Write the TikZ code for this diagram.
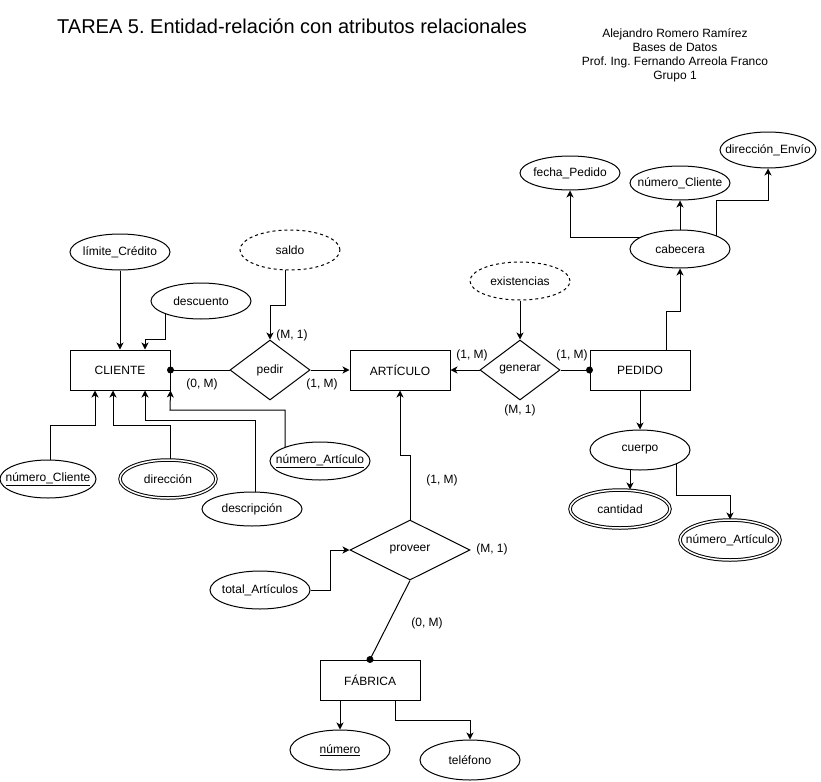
\documentclass[tikz,border=0pt]{standalone}
\usepackage{fontspec}
\setmainfont{Liberation Sans}
\usetikzlibrary{shapes.geometric,arrows.meta,calc}
\pgfdeclarelayer{bg}
\pgfsetlayers{bg,main}
\frenchspacing
\newcommand\ctext[1]{\makebox[0pt]{#1}}
\tikzset{
  txt/.style={font=\fontsize{12}{14}\selectfont},
  ent/.style={txt, draw, line width=1pt, fill=white, minimum width=100pt, minimum height=40pt, inner sep=0pt},
  rel/.style={txt, draw, diamond, line width=1pt, fill=white, minimum width=80pt, minimum height=60pt, inner sep=0pt},
  attr/.style={txt, draw, ellipse, line width=1pt, fill=white, minimum width=100pt, minimum height=38pt, inner sep=0pt},
  dattr/.style={attr, dash pattern=on 3pt off 3pt},
  mattr/.style={attr, double, double distance=1.5pt},
  conn/.style={line width=1pt},
  arr/.style={conn, -{Stealth[length=7pt,width=7pt,inset=2pt]}},
  card/.style={txt, inner sep=0pt},
}
\begin{document}
\frenchspacing
\begin{tikzpicture}[x=1pt,y=-1pt]
\useasboundingbox (0,0) rectangle (821,781);

\node[anchor=base west, inner sep=0pt, font=\fontsize{20}{24}\selectfont] (title) at (57,34) {TAREA 5. Entidad-relación con atributos relacionales};
\node[align=center, inner sep=0pt, font=\fontsize{12}{14}\selectfont] (autor) at (675,55) {Alejandro Romero Ramírez\\Bases de Datos\\Prof. Ing. Fernando Arreola Franco\\Grupo 1};

% entities
\node[ent] (cliente) at (120,370) {CLIENTE};
\node[ent] (articulo) at (400,370) {ARTÍCULO};
\node[ent] (pedido) at (640,370) {PEDIDO};
\node[ent] (fabrica) at (370,680) {FÁBRICA};

% relationships
\node[rel] (pedir) at (270,370) {pedir};
\node[rel] (generar) at (520,370) {generar};
\node[rel, minimum width=120pt] (proveer) at (410,550) {proveer};

% attributes
\node[attr, minimum height=36pt] (limite) at (120,252) {\ctext{límite\_Crédito}};
\node[attr, minimum height=36pt] (descuento) at (201,301) {\ctext{descuento}};
\node[dattr, minimum height=40pt] (saldo) at (290,250) {\ctext{saldo}};
\node[attr, minimum width=96pt] (ncli) at (48,479) {\ctext{\underline{número\_Cliente}}};
\node[mattr, minimum width=96pt] (direccion) at (168,479) {\ctext{dirección}};
\node[attr, minimum height=34pt] (descripcion) at (252,509) {\ctext{descripción}};
\node[attr] (nart) at (320,461) {\ctext{\underline{número\_Artículo}}};
\node[dattr] (existencias) at (520,281) {\ctext{existencias}};
\node[attr, minimum height=34pt] (fecha) at (570,173) {\ctext{fecha\_Pedido}};
\node[attr, minimum height=34pt] (ncli2) at (680,183) {\ctext{número\_Cliente}};
\node[attr, minimum width=96pt, minimum height=36pt] (envio) at (768,150) {\ctext{dirección\_Envío}};
\node[attr] (cabecera) at (680,249) {\ctext{cabecera}};
\node[attr, minimum height=40pt] (cuerpo) at (640,450) {\ctext{cuerpo}};
\node[mattr] (cantidad) at (620,509) {\ctext{cantidad}};
\node[mattr, minimum height=40pt] (nart2) at (730,540) {\ctext{número\_Artículo}};
\node[attr] (total) at (260,590) {\ctext{total\_Artículos}};
\node[attr, minimum height=40pt] (numero) at (340,750) {\ctext{\underline{número}}};
\node[attr, minimum height=40pt] (telefono) at (470,760) {\ctext{teléfono}};

% connectors
\begin{pgfonlayer}{bg}
\draw[arr] (limite) -- (cliente);
\draw[arr] ($(descuento.center)+(-36,0)$) |- (145,339) -- ($(cliente.north)+(25,0)$);
\draw[arr] ($(saldo.center)+(-5,0)$) |- (270,305) -- (pedir.north);
\draw[conn] (cliente.east) -- (pedir.west);
\draw[arr] (pedir.east) -- (articulo.west);
\draw[arr] ($(ncli.center)+(2,0)$) |- (95,425) -- ($(cliente.south)+(-25,0)$);
\draw[arr] ($(direccion.center)+(2,0)$) |- (113,425) -- ($(cliente.south)+(-7,0)$);
\draw[arr] ($(descripcion.center)+(3,0)$) |- (145,420) -- ($(cliente.south)+(25,0)$);
\draw[arr] ($(nart.center)+(-35,0)$) |- (170,410) -- (cliente.south east);
\draw[arr] (existencias) -- (generar);
\draw[arr] (generar.west) -- (articulo.east);
\draw[conn] (generar.east) -- (pedido.west);
\draw[arr] ($(pedido.north)+(26,0)$) |- (680,311) -- (cabecera.south);
\draw[arr] ($(cabecera.center)+(-20,-12)$) -| (fecha.south);
\draw[arr] (cabecera) -- (ncli2);
\draw[arr] ($(cabecera.center)+(36,0)$) |- (768,200) -- (envio.south);
\draw[arr] (pedido) -- (cuerpo);
\draw[arr] ($(cuerpo.center)+(-10,0)$) -- ($(cantidad.north)+(10,0)$);
\draw[arr] ($(cuerpo.center)+(36,0)$) |- (730,495) -- (nart2.north);
\draw[arr] (proveer.north) |- (400,455) -- (articulo.south);
\draw[arr] (total.east) -| (330,550) -- (proveer.west);
\draw[conn] (proveer.south) -- (fabrica.north);
\draw[arr] ($(fabrica.south)+(-30,0)$) -- (numero.north);
\draw[arr] ($(fabrica.south)+(25,0)$) |- (470,720) -- (telefono.north);
\end{pgfonlayer}

% participation dots
\fill (cliente.east) circle (3.5pt);
\fill (pedido.west) circle (3.5pt);
\fill (fabrica.north) circle (3.5pt);

% cardinalities
\node[card] (c1) at (292,335) {(M, 1)};
\node[card] (c2) at (202,384) {(0, M)};
\node[card] (c3) at (322,384) {(1, M)};
\node[card] (c4) at (472,355) {(1, M)};
\node[card] (c5) at (572,355) {(1, M)};
\node[card] (c6) at (520,410) {(M, 1)};
\node[card] (c7) at (442,480) {(1, M)};
\node[card] (c8) at (492,549) {(M, 1)};
\node[card] (c9) at (427,623) {(0, M)};
\end{tikzpicture}
\end{document}
